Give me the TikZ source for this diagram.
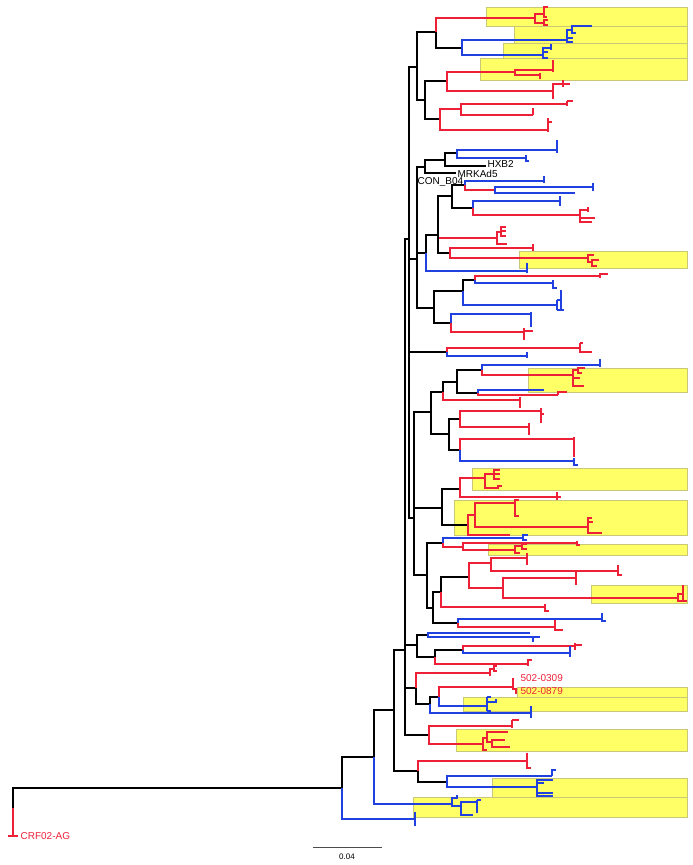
\documentclass[tikz,border=0pt]{standalone}
\usepackage{fontspec}
\setsansfont{Liberation Sans}
\usepackage{tikz}
\usetikzlibrary{positioning}

\definecolor{trred}{RGB}{238,32,56}
\definecolor{trblue}{RGB}{32,64,224}
\definecolor{hlfill}{RGB}{255,255,102}
\definecolor{hldraw}{RGB}{200,200,120}

\tikzset{
  bk/.style={black},
  rd/.style={trred},
  bl/.style={trblue},
  hl/.style={fill=hlfill,draw=hldraw,line width=0.6pt},
  lbl/.style={font=\sffamily\fontsize{10}{12}\selectfont,inner sep=0pt,anchor=west}
}

\begin{document}
\begin{tikzpicture}[x=1pt,y=-1pt,line width=1.2pt]
                      \useasboundingbox (0,0) rectangle (693,865);

                      % highlighted clades
                      \foreach \xa/\ya/\yb in {486/7/26,514/26/43,503/43/58,480/58/80,
                          519/251/268,528/368/392,472/468/490,454/500/535,488/544/555,
                          591/585/603,517/687/697,463/697/711,456/729/751,492/778/797,413/797/817}
                          \draw[hl] (\xa,\ya) rectangle (687,\yb);

                      % root and outgroup
                      \draw[bk] (13,808) -- (13,788) -- (342,788);
                      \draw[rd] (13,808) -- (13,836);
                      \draw[rd] (8,836) -- (18,836);
                      \node[lbl,text=trred] (crf) at (20,836) {CRF02-AG};

                      % backbone
                      \draw[bk] (342,788) |- (374,757);
                      \draw[bl] (342,788) |- (415,819);
                      \draw[bl] (415,812) -- (415,826);
                      \draw[bk] (374,757) |- (394,710);
                      \draw[bl] (374,757) |- (452,804);
                      \draw[bk] (394,710) |- (405,650);
                      \draw[bk] (394,710) |- (418,771);

                      % basal blue clade
                      \draw[bl] (452,804) |- (457,798) -- (457,795);
                      \draw[bl] (452,804) |- (461,806);
                      \draw[bl] (461,806) |- (477,802);
                      \draw[bl] (477,800) -- (477,813);
                      \draw[bl] (477,800) -- (481,800);
                      \draw[bl] (461,806) |- (473,815);

                      % clade at 418
                      \draw[rd] (418,771) |- (527,761);
                      \draw[rd] (527,753) -- (527,768) -- (531,768);
                      \draw[bk] (418,771) |- (447,782);
                      \draw[bl] (447,782) |- (552,776);
                      \draw[bl] (552,776) -- (552,770) -- (556,770);
                      \draw[bl] (447,782) |- (537,787);
                      \draw[bl] (537,787) |- (553,780);
                      \draw[bl] (537,787) |- (544,783);
                      \draw[bl] (537,787) |- (553,793);
                      \draw[bl] (537,787) |- (553,796);

                      % node D
                      \draw[bk] (405,650) |- (409,239);
                      \draw[bk] (405,650) |- (417,645);
                      \draw[bk] (405,650) |- (416,688);
                      \draw[bk] (405,650) |- (429,735);

                      % node 408
                      \draw[bk] (409,239) |- (417,67);
                      \draw[bk] (409,239) |- (417,259);
                      \draw[bk] (409,239) |- (447,352);
                      \draw[bk] (409,239) |- (414,518);

                      % top clade
                      \draw[bk] (417,67) |- (436,32);
                      \draw[bk] (417,67) |- (425,100);
                      \draw[rd] (436,32) |- (535,18);
                      \draw[bk] (436,32) |- (462,48);
                      \draw[rd] (535,18) |- (544,14);
                      \draw[rd] (535,18) |- (544,23);
                      \draw[rd] (544,14) |- (548,7);
                      \draw[rd] (544,14) |- (547,17);
                      \draw[rd] (544,23) |- (548,20);
                      \draw[rd] (544,23) |- (548,25);
                      \draw[bl] (462,48) |- (567,40);
                      \draw[bl] (462,48) |- (543,55);
                      \draw[bl] (567,40) |- (572,30);
                      \draw[bl] (572,30) |- (592,26);
                      \draw[bl] (572,30) |- (576,33);
                      \draw[bl] (567,40) |- (573,38);
                      \draw[bl] (567,40) |- (573,42);
                      \draw[bl] (543,55) |- (551,48);
                      \draw[bl] (551,44) -- (551,50);
                      \draw[bl] (543,55) |- (548,52);
                      \draw[bl] (543,55) |- (548,58);
                      \draw[bk] (425,100) |- (447,81);
                      \draw[bk] (425,100) |- (440,119);
                      \draw[rd] (447,81) |- (515,72);
                      \draw[rd] (447,81) |- (553,91);
                      \draw[rd] (515,72) |- (553,70);
                      \draw[rd] (515,72) |- (540,75);
                      \draw[rd] (553,60) -- (553,72);
                      \draw[rd] (540,73) -- (540,79);
                      \draw[rd] (553,83) -- (553,99);
                      \draw[rd] (553,84) -- (570,84);
                      \draw[rd] (563,80) -- (563,87);
                      \draw[rd] (440,119) |- (461,109);
                      \draw[rd] (440,119) |- (548,130);
                      \draw[rd] (461,109) |- (567,104);
                      \draw[rd] (461,109) |- (533,115);
                      \draw[rd] (567,101) -- (567,106);
                      \draw[rd] (567,101) -- (573,101);
                      \draw[rd] (533,108) -- (533,115);
                      \draw[rd] (548,118) -- (548,132);
                      \draw[rd] (548,122) -- (552,122);

                      % reference strains
                      \draw[bk] (417,259) |- (425,167);
                      \draw[bk] (417,259) |- (434,308);
                      \draw[bk] (417,259) |- (426,253);
                      \draw[bk] (425,167) |- (445,160);
                      \draw[bk] (425,167) |- (456,173);
                      \draw[bk] (445,160) |- (457,153);
                      \draw[bk] (445,160) |- (486,166);
                      \draw[bl] (457,153) |- (557,150);
                      \draw[bl] (457,153) |- (526,158);
                      \draw[bl] (557,140) -- (557,153);
                      \draw[bl] (526,155) -- (526,161) -- (529,161);
                      \node[lbl] (hxb) at (487,164) {HXB2};
                      \node[lbl] (mrk) at (457,174) {MRKAd5};
                      \node[lbl] (conb) at (417,182) {CON\_B04};

                      % clade at 426
                      \draw[bk] (426,253) |- (438,235);
                      \draw[bl] (426,253) |- (527,271);
                      \draw[bl] (527,263) -- (527,273);
                      \draw[bk] (438,235) |- (452,196);
                      \draw[rd] (438,235) |- (497,238);
                      \draw[bk] (438,235) |- (450,253);
                      \draw[bk] (452,196) |- (465,185);
                      \draw[bk] (452,196) |- (473,208);
                      \draw[bl] (465,185) |- (544,181);
                      \draw[bl] (544,176) -- (544,183);
                      \draw[rd] (465,185) |- (495,190);
                      \draw[bl] (495,190) |- (593,187);
                      \draw[bl] (593,183) -- (593,191);
                      \draw[bl] (495,190) |- (575,193);
                      \draw[bl] (473,208) |- (560,201);
                      \draw[bl] (560,196) -- (560,206);
                      \draw[rd] (473,208) |- (580,215);
                      \draw[rd] (580,215) |- (588,210);
                      \draw[rd] (588,207) -- (588,212);
                      \draw[rd] (580,215) |- (595,218);
                      \draw[rd] (580,215) |- (592,222);
                      \draw[rd] (497,238) |- (501,232);
                      \draw[rd] (501,232) |- (506,227);
                      \draw[rd] (501,232) |- (506,231);
                      \draw[rd] (501,232) |- (506,236);
                      \draw[rd] (497,238) |- (507,244);
                      \draw[rd] (450,253) |- (533,248);
                      \draw[rd] (533,244) -- (533,251);
                      \draw[rd] (450,253) |- (588,258);
                      \draw[rd] (588,258) |- (594,255);
                      \draw[rd] (588,258) |- (592,262);
                      \draw[rd] (592,262) |- (599,260);
                      \draw[rd] (592,262) |- (597,266);

                      % clade at 434
                      \draw[bk] (434,308) |- (463,291);
                      \draw[bk] (434,308) |- (451,323);
                      \draw[bk] (463,291) |- (475,280);
                      \draw[bl] (463,291) |- (557,305);
                      \draw[rd] (475,280) |- (600,276);
                      \draw[rd] (600,273) -- (600,278);
                      \draw[rd] (600,274) -- (608,274);
                      \draw[bl] (475,280) |- (553,283);
                      \draw[bl] (553,280) -- (553,288) -- (557,288);
                      \draw[bl] (557,300) -- (557,310);
                      \draw[bl] (557,300) -- (561,300);
                      \draw[bl] (557,310) -- (564,310);
                      \draw[bl] (561,290) -- (561,310);
                      \draw[bl] (451,323) |- (531,314);
                      \draw[bl] (531,312) -- (531,327);
                      \draw[rd] (451,323) |- (524,332);
                      \draw[rd] (524,328) -- (524,340);
                      \draw[rd] (524,331) -- (533,331);

                      % pair at 447
                      \draw[rd] (447,352) |- (580,348);
                      \draw[rd] (580,343) -- (580,352) -- (592,352);
                      \draw[rd] (580,343) -- (583,343);
                      \draw[bl] (447,352) |- (527,356);
                      \draw[bl] (527,352) -- (527,358);

                      % node 414
                      \draw[bk] (414,518) |- (431,412);
                      \draw[bk] (414,518) |- (442,508);
                      \draw[bk] (414,518) |- (427,575);
                      \draw[bk] (431,412) |- (443,392);
                      \draw[bk] (431,412) |- (449,434);
                      \draw[bk] (443,392) |- (457,382);
                      \draw[rd] (443,392) |- (520,400);
                      \draw[rd] (520,397) -- (520,408);
                      \draw[bk] (457,382) |- (482,370);
                      \draw[bk] (457,382) |- (478,393);
                      \draw[bl] (482,370) |- (600,365);
                      \draw[bl] (600,359) -- (600,367);
                      \draw[rd] (482,370) |- (573,375);
                      \draw[rd] (573,375) |- (578,370);
                      \draw[rd] (578,370) |- (585,368);
                      \draw[rd] (578,370) |- (582,373);
                      \draw[rd] (573,375) |- (580,378);
                      \draw[rd] (573,375) |- (584,386);
                      \draw[bl] (478,393) |- (544,390);
                      \draw[rd] (478,393) |- (558,395);
                      \draw[rd] (558,391) -- (558,395);
                      \draw[rd] (558,392) -- (567,392);
                      \draw[bk] (449,434) |- (460,419);
                      \draw[bk] (449,434) |- (460,450);
                      \draw[rd] (460,419) |- (541,411);
                      \draw[rd] (541,408) -- (541,423);
                      \draw[rd] (541,414) -- (544,414);
                      \draw[rd] (460,419) |- (529,427);
                      \draw[rd] (529,423) -- (529,435);
                      \draw[rd] (460,450) |- (574,439);
                      \draw[rd] (574,437) -- (574,457);
                      \draw[bl] (460,450) |- (574,461);
                      \draw[bl] (574,458) -- (574,465) -- (578,465);

                      % clade at 442
                      \draw[bk] (442,508) |- (460,489);
                      \draw[bk] (442,508) |- (468,525);
                      \draw[rd] (460,489) |- (485,478);
                      \draw[rd] (460,489) |- (557,497);
                      \draw[rd] (557,492) -- (557,500);
                      \draw[rd] (557,497) -- (561,497);
                      \draw[rd] (485,478) |- (494,474);
                      \draw[rd] (494,474) |- (500,470);
                      \draw[rd] (494,474) |- (500,474);
                      \draw[rd] (494,474) |- (500,479);
                      \draw[rd] (485,478) |- (498,488);
                      \draw[rd] (498,485) -- (498,489);
                      \draw[rd] (498,486) -- (502,486);
                      \draw[rd] (468,525) |- (475,515);
                      \draw[rd] (468,525) |- (510,535);
                      \draw[rd] (475,515) |- (515,503);
                      \draw[rd] (475,515) |- (588,527);
                      \draw[rd] (515,503) |- (519,500);
                      \draw[rd] (515,503) |- (519,516);
                      \draw[rd] (588,527) |- (592,518);
                      \draw[rd] (588,527) |- (593,522);
                      \draw[rd] (588,527) |- (602,533);

                      % clade at 427
                      \draw[bk] (427,575) |- (443,543);
                      \draw[bk] (427,575) |- (433,608);
                      \draw[bl] (443,543) |- (523,538);
                      \draw[bl] (528,535) -- (523,535) -- (523,540) -- (527,540);
                      \draw[rd] (443,543) |- (463,547);
                      \draw[rd] (463,547) |- (577,543);
                      \draw[rd] (577,541) -- (577,545) -- (580,545);
                      \draw[rd] (463,547) |- (515,550);
                      \draw[rd] (515,550) |- (522,546);
                      \draw[rd] (515,550) |- (520,553);
                      \draw[rd] (522,546) |- (527,544);
                      \draw[rd] (522,546) |- (527,549);
                      \draw[bk] (433,608) |- (441,592);
                      \draw[bk] (433,608) |- (458,623);
                      \draw[bk] (441,592) |- (469,577);
                      \draw[rd] (441,592) |- (545,607);
                      \draw[rd] (545,604) -- (545,611) -- (549,611);
                      \draw[rd] (469,577) |- (491,563);
                      \draw[rd] (469,577) |- (503,588);
                      \draw[rd] (491,563) |- (527,558);
                      \draw[rd] (527,553) -- (527,565);
                      \draw[rd] (491,563) |- (618,571);
                      \draw[rd] (618,565) -- (618,575) -- (622,575);
                      \draw[rd] (503,588) |- (576,578);
                      \draw[rd] (576,572) -- (576,585);
                      \draw[rd] (503,588) |- (678,598);
                      \draw[rd] (678,598) |- (683,594);
                      \draw[rd] (683,585) -- (683,600);
                      \draw[rd] (678,598) |- (687,601);
                      \draw[bl] (458,623) |- (602,619);
                      \draw[bl] (602,613) -- (602,621) -- (606,621);
                      \draw[rd] (458,623) |- (555,627);
                      \draw[rd] (555,620) -- (555,630) -- (563,630);

                      % clade at 417 (lower)
                      \draw[bk] (417,645) |- (428,635);
                      \draw[bk] (417,645) |- (435,657);
                      \draw[bl] (428,635) |- (530,633);
                      \draw[bl] (428,635) |- (540,637);
                      \draw[bl] (533,637) -- (533,642);
                      \draw[bk] (435,657) |- (463,650);
                      \draw[rd] (435,657) |- (528,664);
                      \draw[rd] (528,659) -- (528,666);
                      \draw[rd] (528,660) -- (532,660);
                      \draw[rd] (463,650) |- (575,646);
                      \draw[rd] (575,643) -- (575,650);
                      \draw[rd] (575,645) -- (582,645);
                      \draw[bl] (463,650) |- (570,653);
                      \draw[bl] (570,646) -- (570,657);

                      % clade at 416
                      \draw[rd] (416,688) |- (490,673);
                      \draw[bk] (416,688) |- (430,704);
                      \draw[rd] (490,673) |- (494,669);
                      \draw[rd] (490,673) -- (490,676);
                      \draw[rd] (494,669) |- (497,666);
                      \draw[rd] (494,669) |- (497,671);
                      \draw[bk] (430,704) |- (439,697);
                      \draw[bl] (430,704) |- (531,713);
                      \draw[bl] (531,706) -- (531,718);
                      \draw[rd] (439,697) |- (513,687);
                      \draw[bl] (439,697) |- (487,706);
                      \draw[rd] (513,678) -- (513,689) -- (516,689) -- (516,694);
                      \node[lbl,text=trred] (p0309) at (520,678) {502-0309};
                      \node[lbl,text=trred] (p0879) at (520,691) {502-0879};
                      \draw[bl] (487,697) -- (487,711);
                      \draw[bl] (487,702) -- (496,702) -- (496,699);
                      \draw[bl] (487,711) -- (491,711);
                      \draw[bl] (487,697) -- (491,697);

                      % clade at 429
                      \draw[rd] (429,735) |- (512,726);
                      \draw[rd] (512,720) -- (512,728);
                      \draw[rd] (512,720) -- (519,720);
                      \draw[rd] (429,735) |- (483,744);
                      \draw[rd] (483,744) |- (487,738);
                      \draw[rd] (487,738) |- (508,732);
                      \draw[rd] (487,738) |- (492,742);
                      \draw[rd] (492,742) |- (505,740);
                      \draw[rd] (492,742) |- (510,747);
                      \draw[rd] (483,744) |- (487,750);

                      % scale bar
                      \draw[line width=0.8pt,black!70] (313,847) -- (382,847);
                      \node[font=\sffamily\fontsize{8}{9}\selectfont,inner sep=0pt] (sbar) at (347,857) {0.04};
                  \end{tikzpicture}
\end{document}
